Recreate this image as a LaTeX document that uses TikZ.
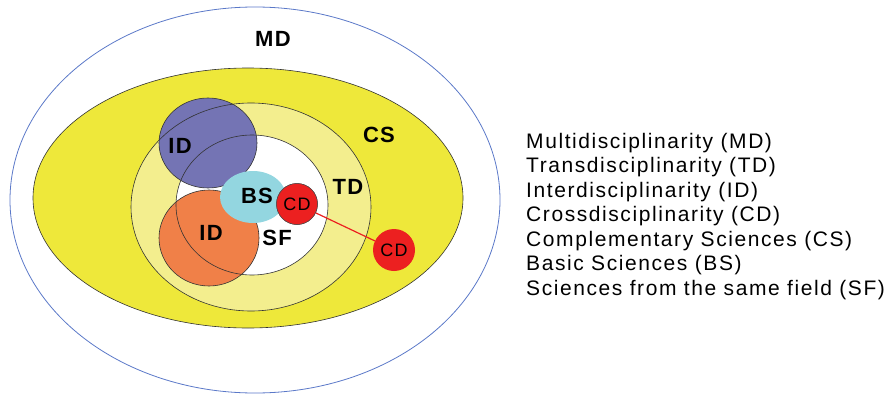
\documentclass[tikz,border=0pt]{standalone}
\usepackage{fontspec}
\setmainfont{Liberation Sans}
\definecolor{mdblue}{RGB}{90,120,200}
\definecolor{csyellow}{RGB}{238,232,58}
\definecolor{tdyellow}{RGB}{243,238,142}
\definecolor{idblue}{RGB}{116,116,180}
\definecolor{idorange}{RGB}{240,128,72}
\definecolor{bsblue}{RGB}{147,214,224}
\definecolor{cdred}{RGB}{236,32,32}
\tikzset{
  region/.style={draw=black!80, line width=0.6pt},
  lbl/.style={font=\addfontfeatures{LetterSpace=6}\fontsize{22}{24}\selectfont\bfseries, inner sep=0pt},
  cdlbl/.style={font=\addfontfeatures{LetterSpace=8}\fontsize{18}{20}\selectfont, inner sep=0pt},
  legend/.style={font=\addfontfeatures{LetterSpace=7.5}\fontsize{21}{24}\selectfont, anchor=west, inner sep=0pt}
}
\begin{document}
\begin{tikzpicture}[x=1pt,y=-1pt]
\useasboundingbox (0,0) rectangle (891,396);
% MD
\draw[mdblue, line width=0.8pt] (255,200) ellipse [x radius=245, y radius=193];
% CS
\fill[csyellow] (248,198) ellipse [x radius=215, y radius=130];
\draw[region] (248,198) ellipse [x radius=215, y radius=130];
% TD
\fill[tdyellow] (251,207) ellipse [x radius=120, y radius=104];
% SF
\fill[white] (252,205) ellipse [x radius=76, y radius=70];
% ID circles
\fill[idblue] (208,143) ellipse [x radius=49, y radius=45];
\draw[region] (208,143) ellipse [x radius=49, y radius=45];
\fill[idorange] (209,238) ellipse [x radius=50, y radius=48];
\draw[region] (209,238) ellipse [x radius=50, y radius=48];
% outlines of TD and SF over ID circles
\draw[region] (251,207) ellipse [x radius=120, y radius=104];
\draw[region] (252,205) ellipse [x radius=76, y radius=70];
% BS
\fill[bsblue] (253,197) ellipse [x radius=33, y radius=26];
% CD link
\node[circle, fill=cdred, draw=black!70, line width=0.5pt, minimum size=41pt, inner sep=0pt] (cd1) at (297,204) {};
\node[circle, fill=cdred, minimum size=42pt, inner sep=0pt] (cd2) at (394,250) {};
\draw[cdred, line width=1.2pt] (cd1) -- (cd2);
\node[circle, fill=cdred, draw=black!70, line width=0.5pt, minimum size=41pt, inner sep=0pt] at (297,204) {};
% labels
\node[lbl] (mdl) at (273,39) {MD};
\node[lbl] (csl) at (379,135) {CS};
\node[lbl] (tdl) at (348,187) {TD};
\node[lbl] (id1) at (180,146) {ID};
\node[lbl] (id2) at (211,233) {ID};
\node[lbl] (bsl) at (257,196) {BS};
\node[lbl] (sfl) at (277,238) {SF};
\node[cdlbl] (cdl1) at (297,204) {CD};
\node[cdlbl] (cdl2) at (394,250) {CD};
% legend
\node[legend] (l1) at (526,143) {Multidisciplinarity (MD)};
\node[legend] (l2) at (526,167.5) {Transdisciplinarity (TD)};
\node[legend] (l3) at (526,192) {Interdisciplinarity (ID)};
\node[legend] (l4) at (526,216.5) {Crossdisciplinarity (CD)};
\node[legend] (l5) at (526,241) {Complementary Sciences (CS)};
\node[legend] (l6) at (526,265.5) {Basic Sciences (BS)};
\node[legend] (l7) at (526,290) {Sciences from the same field (SF)};
\end{tikzpicture}
\end{document}
